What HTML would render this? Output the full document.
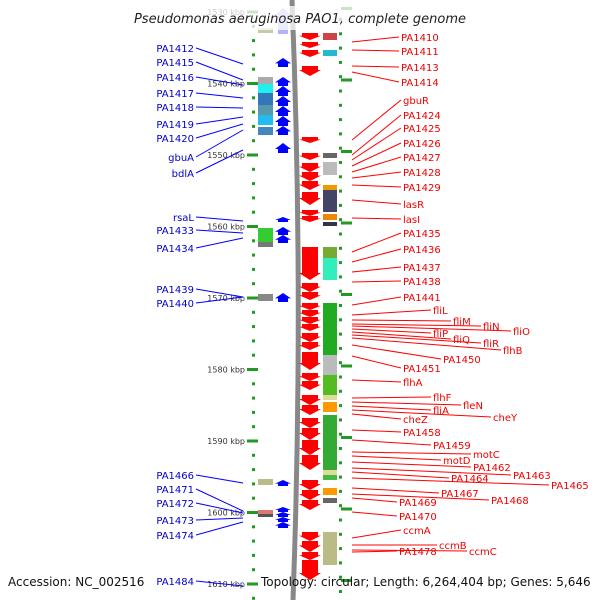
<!DOCTYPE html>
<html><head><meta charset="utf-8"><style>
body{margin:0;background:#fff;width:600px;height:600px;overflow:hidden}
svg{display:block;font-family:"DejaVu Sans","Liberation Sans",sans-serif}
</style></head><body>
<svg id="map" width="600" height="600" viewBox="0 0 600 600">
<rect x="0" y="572" width="600" height="20" fill="#fff" opacity="0.8"/>
<path d="M292,0 Q304,300 293,600" stroke="#888" stroke-width="5" fill="none"/>
<g id="ticks"></g><g id="genes"></g><g id="labels"></g>
<rect x="120" y="6" width="360" height="24" fill="#fff" opacity="0.75"/>
<text x="300" y="23" text-anchor="middle" font-size="13" font-style="italic" fill="#222">Pseudomonas aeruginosa PAO1, complete genome</text>
<text x="8" y="586" font-size="12" fill="#111">Accession: NC_002516</text>
<text x="261" y="586" font-size="12" fill="#111">Topology: circular; Length: 6,264,404 bp; Genes: 5,646</text>
</svg>
<script>
const NS="http://www.w3.org/2000/svg";
const kbpLabels=[1530,1540,1550,1560,1570,1580,1590,1600,1610];
const kbpStart=1530, kbpY0=12, pxPerKbp=7.15;
const redArrows=[[33,40],[42,48],[50,57],[66,76],[137,143],[153,160],[163,172],[172,181],[181,190],[192,205],[210,216],[216,222],[247,280],[283,292],[292,300],[303,310],[310,317],[317,324],[324,331],[333,342],[342,350],[352,370],[373,381],[381,390],[395,405],[405,415],[418,428],[428,440],[440,455],[455,470],[480,490],[490,500],[500,510],[532,541],[541,552],[552,560],[560,580]];
const blueArrows=[[8,34],[58,67],[77,86],[86,96],[96,106],[106,116],[116,126],[126,135],[143,153],[217,222],[227,235],[235,243],[293,302],[480,486],[507,512],[512,517],[517,522],[522,528]];
const rightBoxes=[[33,40,"#c44"],[50,56,"#2bc"],[153,158,"#666"],[162,175,"#bbb"],[185,190,"#e90"],[190,212,"#446"],[214,220,"#e80"],[222,226,"#334"],[247,258,"#7a3"],[258,280,"#3eb"],[303,355,"#2a2"],[355,375,"#bbb"],[375,395,"#5b2"],[395,400,"#dd9"],[402,412,"#f90"],[415,470,"#3a3"],[470,477,"#dd9"],[475,480,"#4b4"],[488,495,"#f90"],[498,503,"#666"],[532,565,"#bb8"]];
const leftBoxes=[[28,33,"#895"],[77,84,"#aaa"],[84,93,"#2ee"],[93,105,"#37b"],[105,115,"#59a"],[115,125,"#2be"],[127,135,"#48b"],[228,242,"#3c3"],[242,247,"#777"],[294,301,"#888"],[479,485,"#bb8"],[510,514,"#d77"],[514,517,"#555"]];
const rightNames=["PA1410","PA1411","PA1413","PA1414","gbuR","PA1424","PA1425","PA1426","PA1427","PA1428","PA1429","lasR","lasI","PA1435","PA1436","PA1437","PA1438","PA1441","fliL","fliM","fliN","fliO","fliP","fliQ","fliR","flhB","PA1450","PA1451","flhA","flhF","fleN","fliA","cheY","cheZ","PA1458","PA1459","motC","motD","PA1462","PA1463","PA1464","PA1465","PA1467","PA1468","PA1469","PA1470","ccmA","ccmB","ccmC","PA1478"];
const rightLabelX=[401,401,401,401,403,403,403,403,403,403,403,403,403,403,403,403,403,403,433,453,483,513,433,453,483,503,443,403,403,433,463,433,493,403,403,433,473,443,473,513,451,551,441,491,399,399,403,439,469,399];
const rightLabelY=[37,51,67,82,100,115,128,143,157,172,187,204,219,233,249,267,281,297,310,321,326,331,333,339,343,350,359,368,382,397,405,410,417,419,432,445,454,460,467,475,478,485,493,500,502,516,530,545,551,551];
const rightGeneY=[42,50,66,72,140,155,160,166,172,178,185,200,218,252,262,272,282,305,315,320,324,326,329,332,335,338,345,356,380,398,402,406,410,414,430,440,452,456,462,468,472,478,488,494,498,512,538,545,550,552];
const leftNames=["PA1412","PA1415","PA1416","PA1417","PA1418","PA1419","PA1420","gbuA","bdlA","rsaL","PA1433","PA1434","PA1439","PA1440","PA1466","PA1471","PA1472","PA1473","PA1474","PA1484"];
const leftLabelY=[48,62,77,93,107,124,138,157,173,217,230,248,289,303,475,489,503,520,535,581];
const leftGeneY=[64,80,85,98,108,117,124,130,150,221,233,238,297,297,483,511,513,518,522,586];

const T=document.getElementById('ticks'),G=document.getElementById('genes'),L=document.getElementById('labels');
function mk(tag,attrs,parent){const e=document.createElementNS(NS,tag);for(const k in attrs)e.setAttribute(k,attrs[k]);parent.appendChild(e);return e;}
const yOfKbp=k=>kbpY0+(k-kbpStart)*pxPerKbp;
for(let k=kbpStart;k<=1612;k+=2){const y=yOfKbp(k);
 const d=mk('rect',{x:252,y:y-1.5,width:3,height:3,fill:'#292'},T);
 
 
 const d2=mk('rect',{x:339,y:y+6,width:3,height:3,fill:'#292'},T);
 
 }
kbpLabels.forEach(k=>{const y=yOfKbp(k);
 const m=mk('rect',{x:247,y:y-1.5,width:11,height:3,fill:'#292'},T);
 
 
 const m2=mk('rect',{x:341,y:y-5,width:11,height:3,fill:'#292'},T);
 
 
 const t=mk('text',{x:245,y:y+3,'text-anchor':'end','font-size':8,fill:'#333'},T);t.textContent=k+' kbp';
 
 });
redArrows.forEach(([a,b])=>{const h=b-a,tip=Math.min(h*0.6,7);
 const p=mk('polygon',{points:`302,${a} 318,${a} 318,${b-tip} 321,${b-tip} 310,${b} 299,${b-tip} 302,${b-tip}`,fill:'#f00'},G);
 
 });
blueArrows.forEach(([a,b])=>{const h=b-a,tip=Math.min(h*0.6,7);
 const p=mk('polygon',{points:`278,${b} 288,${b} 288,${a+tip} 291,${a+tip} 283,${a} 275,${a+tip} 278,${a+tip}`,fill:'#00f',opacity:a<35?0.3:1},G);
 
 });
rightBoxes.forEach(([a,b,c])=>{const r=mk('rect',{x:323,y:a,width:14,height:b-a,fill:c},G);
 
 });
leftBoxes.forEach(([a,b,c])=>{const r=mk('rect',{x:258,y:a,width:15,height:b-a,fill:c,opacity:a<35?0.5:1},G);
 
 });
rightNames.forEach((n,i)=>{const y=rightLabelY[i],x=rightLabelX[i];
 const l=mk('line',{x1:352,y1:rightGeneY[i],x2:x-2,y2:y,stroke:'#f00','stroke-width':1},L);
 
 
 const t=mk('text',{x:x,y:y+4,'font-size':10,fill:'#e00'},L);t.textContent=n;
 
 });
leftNames.forEach((n,i)=>{const y=leftLabelY[i];
 const l=mk('line',{x1:196,y1:y,x2:243,y2:leftGeneY[i],stroke:'#00f','stroke-width':1},L);
 
 
 const t=mk('text',{x:194,y:y+4,'text-anchor':'end','font-size':10,fill:'#00c'},L);t.textContent=n;
 
 });
</script>
</body></html>
